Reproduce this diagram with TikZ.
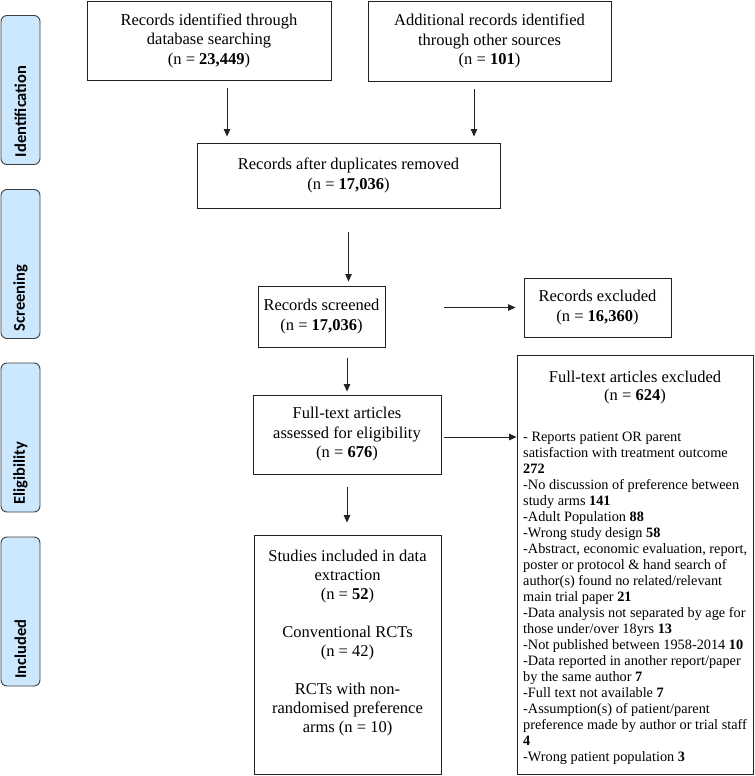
\documentclass[tikz,border=0pt]{standalone}
\usepackage{fontspec}
\setmainfont{Liberation Serif}
\newfontfamily\lblfont{Carlito}
\usetikzlibrary{arrows.meta}
\definecolor{lblfill}{HTML}{CCE8FF}
\definecolor{lbldraw}{HTML}{3F3F3F}
\definecolor{boxdraw}{HTML}{222222}
\begin{document}
\begin{tikzpicture}[x=1bp,y=-1bp,
  box/.style={draw=boxdraw, line width=0.9bp, inner sep=0pt, align=center,
    font=\fontsize{16.5bp}{19.5bp}\selectfont},
  lbl/.style={draw=lbldraw, fill=lblfill, line width=0.9bp, rounded corners=6bp,
    rotate=90, minimum height=39bp, text width=134bp, inner xsep=7.5bp, inner ysep=0pt,
    align=left, font=\lblfont\bfseries\fontsize{16.5bp}{19bp}\selectfont},
  arr/.style={-{Triangle[length=7.5bp,width=6.5bp]}, line width=0.9bp, draw=boxdraw},
  plain/.style={inner sep=0pt}]
\useasboundingbox (0,0) rectangle (755,776);

% phase labels
\node[lbl] (L1) at (20.5,90) {Identification};
\node[lbl] (L2) at (20.5,264) {Screening};
\node[lbl] (L3) at (20.5,437.5) {Eligibility};
\node[lbl] (L4) at (20.5,611.5) {Included};

% boxes
\node[box, minimum width=244bp, minimum height=79bp] (A) at (209,40.5)
  {Records identified through\\database searching\\(n = \textbf{23,449})};
\node[box, minimum width=243bp, minimum height=80bp] (B) at (489.5,41)
  {Additional records identified\\through other sources\\(n = \textbf{101})};
\node[box, minimum width=303bp, minimum height=65bp] (C) at (348.5,175.5)
  {Records after duplicates removed\\(n = \textbf{17,036})};
\node[box, minimum width=127bp, minimum height=61bp] (D) at (321.5,316.5)
  {Records screened\\(n = \textbf{17,036})};
\node[box, minimum width=147bp, minimum height=59bp] (E) at (597.5,307.5)
  {Records excluded\\(n = \textbf{16,360})};
\node[box, minimum width=188bp, minimum height=79bp] (F) at (347,434.5)
  {Full-text articles\\assessed for eligibility\\(n = \textbf{676})};
\node[box, minimum width=236bp, minimum height=419bp] (G) at (635,564.5) {};
\node[box, minimum width=187bp, minimum height=239bp] (H) at (347.5,654.5) {};

% text of the included box
\node[plain, anchor=north, align=center, font=\fontsize{16.5bp}{19bp}\selectfont] (Ht) at (347.5,550)
  {Studies included in data\\extraction\\(n = \textbf{52})\\[19bp]Conventional RCTs\\(n = 42)\\[19bp]RCTs with non-\\randomised preference\\arms (n = 10)};

% text of the exclusion box
\node[plain, anchor=north, align=center, font=\fontsize{16.5bp}{18bp}\selectfont] (Gh) at (635,371)
  {Full-text articles excluded\\(n = \textbf{624})};
\node[plain, anchor=north west, align=left, font=\fontsize{14.3bp}{16bp}\selectfont] (Gl) at (523,432)
  {- Reports patient OR parent\\
   satisfaction with treatment outcome\\
   \textbf{272}\\
   -No discussion of preference between\\
   study arms \textbf{141}\\
   \textbf{-}Adult Population \textbf{88}\\
   -Wrong study design \textbf{58}\\
   -Abstract, economic evaluation, report,\\
   poster or protocol \& hand search of\\
   author(s) found no related/relevant\\
   main trial paper \textbf{21}\\
   -Data analysis not separated by age for\\
   those under/over 18yrs \textbf{13}\\
   -Not published between 1958-2014 \textbf{10}\\
   -Data reported in another report/paper\\
   by the same author \textbf{7}\\
   -Full text not available \textbf{7}\\
   -Assumption(s) of patient/parent\\
   preference made by author or trial staff\\
   \textbf{4}\\
   -Wrong patient population \textbf{3}};

% connectors
\draw[arr, shorten <=8bp, shorten >=6bp] ([xshift=18bp]A.south) -- ([xshift=18bp]A.south |- C.north);
\draw[arr, shorten <=8bp, shorten >=6bp] ([xshift=-15.5bp]B.south) -- ([xshift=-15.5bp]B.south |- C.north);
\draw[arr, shorten <=24bp, shorten >=4bp] (C.south) -- (C.south |- D.north);
\draw[arr, shorten <=59bp, shorten >=8bp] (D.east |- E.west) -- (E.west);
\draw[arr, shorten <=11bp, shorten >=3bp] (F.north |- D.south) -- (F.north);
\draw[arr, shorten <=3bp] ([yshift=-2.5bp]F.east) -- ([yshift=-2.5bp]F.east -| G.west);
\draw[arr, shorten <=13bp, shorten >=12bp] (F.south) -- (F.south |- H.north);
\end{tikzpicture}
\end{document}
